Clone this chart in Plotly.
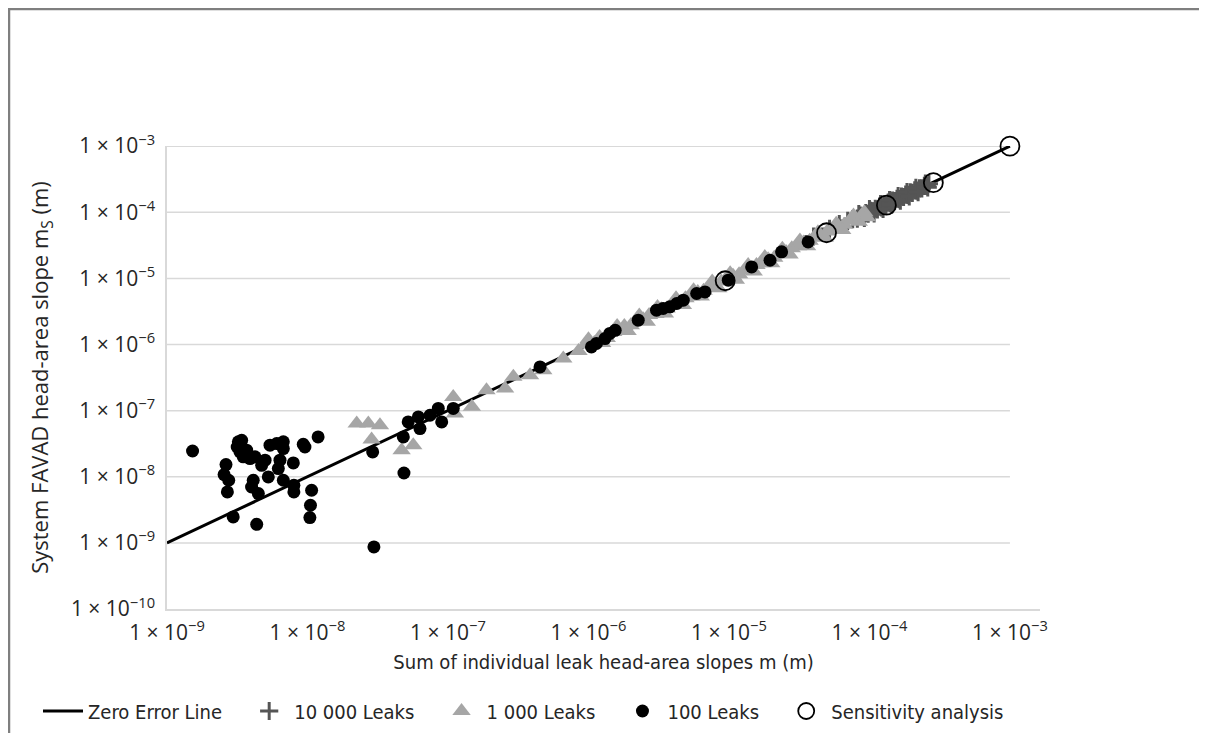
import plotly.graph_objects as go

# ---------------- data ----------------
zero_line_x = [1e-9, 1e-3]
zero_line_y = [1e-9, 1e-3]

leaks10000_x = [4.0e-5, 5.2e-5, 6.1e-5, 7.0e-5, 7.6e-5,
                8.2e-5, 8.6e-5, 9.0e-5, 9.4e-5, 9.8e-5, 1.02e-4, 1.06e-4, 1.10e-4,
                1.14e-4, 1.18e-4, 1.22e-4, 1.27e-4, 1.31e-4, 1.36e-4, 1.41e-4, 1.46e-4,
                1.51e-4, 1.57e-4, 1.63e-4, 1.69e-4, 1.75e-4, 1.81e-4, 1.88e-4, 1.95e-4,
                2.02e-4, 2.10e-4, 2.18e-4, 2.27e-4, 2.36e-4, 2.46e-4, 2.56e-4, 2.65e-4,
                8.4e-5, 9.2e-5, 1.0e-4, 1.08e-4, 1.2e-4, 1.25e-4, 1.39e-4, 1.44e-4,
                1.6e-4, 1.66e-4, 1.85e-4, 1.92e-4, 2.14e-4, 2.22e-4, 2.5e-4, 2.6e-4]
leaks10000_y = [4.3e-5, 5.6e-5, 6.6e-5, 7.4e-5, 7.9e-5,
                8.0e-5, 8.9e-5, 8.7e-5, 9.7e-5, 9.5e-5, 1.05e-4, 1.03e-4, 1.13e-4,
                1.10e-4, 1.22e-4, 1.18e-4, 1.30e-4, 1.27e-4, 1.40e-4, 1.37e-4, 1.50e-4,
                1.47e-4, 1.60e-4, 1.58e-4, 1.73e-4, 1.70e-4, 1.85e-4, 1.83e-4, 2.00e-4,
                1.97e-4, 2.14e-4, 2.12e-4, 2.30e-4, 2.30e-4, 2.50e-4, 2.50e-4, 2.70e-4,
                9.4e-5, 8.2e-5, 1.12e-4, 9.6e-5, 1.33e-4, 1.12e-4, 1.53e-4, 1.30e-4,
                1.75e-4, 1.50e-4, 2.02e-4, 1.74e-4, 2.34e-4, 2.02e-4, 2.72e-4, 2.38e-4]

leaks1000_x = [2.24e-8, 2.71e-8, 3.28e-8, 2.86e-8, 4.68e-8, 5.66e-8,
               1.09e-7, 1.12e-7, 1.48e-7, 1.88e-7, 2.55e-7, 2.92e-7, 3.84e-7, 4.77e-7, 6.62e-7,
               8.5e-7, 9.5e-7, 1.1e-6, 1.2e-6, 1.35e-6, 1.5e-6, 1.65e-6, 1.8e-6, 2.0e-6,
               2.2e-6, 2.45e-6, 2.7e-6, 3.0e-6, 3.3e-6, 3.6e-6, 4.0e-6, 4.4e-6, 4.9e-6,
               5.4e-6, 6.0e-6, 6.6e-6, 7.3e-6, 8.0e-6, 8.8e-6, 9.7e-6, 1.07e-5, 1.18e-5,
               1.3e-5, 1.43e-5, 1.57e-5, 1.73e-5, 1.9e-5, 2.1e-5, 2.3e-5, 2.55e-5, 2.8e-5,
               3.1e-5, 3.4e-5, 3.75e-5, 4.1e-5, 4.5e-5, 5.0e-5, 5.5e-5, 6.0e-5, 6.6e-5,
               7.3e-5, 8.0e-5, 8.8e-5,
               1.0e-6, 1.25e-6, 1.6e-6, 1.9e-6, 2.3e-6, 2.6e-6, 3.1e-6, 3.5e-6, 4.2e-6,
               4.7e-6, 5.6e-6, 6.3e-6, 7.6e-6, 8.4e-6, 1.02e-5, 1.12e-5, 1.37e-5, 1.5e-5,
               1.8e-5, 2.0e-5, 2.4e-5, 2.7e-5, 3.2e-5, 3.6e-5, 4.3e-5, 4.8e-5, 5.8e-5,
               6.4e-5, 7.7e-5, 8.4e-5, 9.2e-5, 9.6e-5]
leaks1000_y = [6.38e-8, 6.38e-8, 6.01e-8, 3.66e-8, 2.52e-8, 3.0e-8,
               1.61e-7, 9.04e-8, 1.14e-7, 2.04e-7, 2.16e-7, 3.24e-7, 3.44e-7, 4.08e-7, 6.14e-7,
               8.0e-7, 1.0e-6, 1.05e-6, 1.3e-6, 1.25e-6, 1.55e-6, 1.6e-6, 1.9e-6, 1.95e-6,
               2.3e-6, 2.4e-6, 2.8e-6, 2.9e-6, 3.4e-6, 3.5e-6, 4.1e-6, 4.3e-6, 5.0e-6,
               5.3e-6, 6.2e-6, 6.5e-6, 7.4e-6, 7.9e-6, 9.0e-6, 9.5e-6, 1.1e-5, 1.15e-5,
               1.33e-5, 1.4e-5, 1.6e-5, 1.7e-5, 1.95e-5, 2.05e-5, 2.35e-5, 2.5e-5, 2.85e-5,
               3.05e-5, 3.5e-5, 3.7e-5, 4.2e-5, 4.4e-5, 5.1e-5, 5.4e-5, 6.2e-5, 6.5e-5,
               7.5e-5, 7.8e-5, 9.0e-5,
               1.2e-6, 1.05e-6, 1.9e-6, 1.6e-6, 2.75e-6, 2.2e-6, 3.7e-6, 2.95e-6, 5.0e-6,
               3.95e-6, 6.6e-6, 5.3e-6, 9.0e-6, 7.1e-6, 1.2e-5, 9.5e-6, 1.6e-5, 1.27e-5,
               2.1e-5, 1.7e-5, 2.8e-5, 2.3e-5, 3.75e-5, 3.05e-5, 5.0e-5, 4.1e-5, 6.7e-5,
               5.4e-5, 8.9e-5, 7.2e-5, 1.0e-4, 8.4e-5]

leaks100_x = [1.52e-9, 2.63e-9, 2.55e-9, 2.75e-9, 2.69e-9, 2.96e-9, 3.22e-9, 3.40e-9,
              3.16e-9, 3.31e-9, 3.49e-9, 3.69e-9, 3.90e-9, 4.23e-9, 4.11e-9, 4.00e-9,
              4.47e-9, 4.35e-9, 4.72e-9, 4.99e-9, 5.26e-9, 5.41e-9, 6.04e-9, 6.73e-9,
              6.73e-9, 6.37e-9, 6.20e-9, 6.73e-9, 7.93e-9, 8.00e-9, 8.00e-9, 9.33e-9,
              9.59e-9, 1.07e-8, 1.05e-8, 1.04e-8, 1.19e-8, 2.91e-8, 2.97e-8, 4.86e-8,
              4.81e-8, 5.21e-8, 6.15e-8, 6.32e-8, 7.45e-8, 8.53e-8, 9.02e-8, 1.09e-7,
              4.52e-7, 1.05e-6, 1.14e-6, 1.31e-6, 1.42e-6, 1.55e-6, 2.26e-6, 3.05e-6,
              3.40e-6, 3.80e-6, 4.25e-6, 4.73e-6, 5.89e-6, 6.75e-6, 9.89e-6, 1.45e-5,
              1.96e-5, 2.37e-5, 3.66e-5]
leaks100_y = [2.45e-8, 1.53e-8, 1.08e-8, 8.85e-9, 5.89e-9, 2.47e-9, 3.37e-8, 3.56e-8,
              2.82e-8, 2.37e-8, 2.00e-8, 2.52e-8, 1.88e-8, 2.00e-8, 8.85e-9, 7.00e-9,
              5.57e-9, 1.91e-9, 1.49e-8, 1.78e-8, 9.93e-9, 3.00e-8, 3.18e-8, 3.37e-8,
              2.67e-8, 1.78e-8, 1.33e-8, 8.85e-9, 1.62e-8, 7.43e-9, 5.89e-9, 3.10e-8,
              2.82e-8, 6.25e-9, 3.71e-9, 2.41e-9, 4.00e-8, 2.37e-8, 8.67e-10, 1.14e-8,
              4.00e-8, 6.75e-8, 8.04e-8, 5.36e-8, 8.51e-8, 1.08e-7, 6.75e-8, 1.08e-7,
              4.58e-7, 9.2e-7, 1.04e-6, 1.23e-6, 1.47e-6, 1.64e-6, 2.33e-6, 3.30e-6,
              3.51e-6, 3.71e-6, 4.17e-6, 4.68e-6, 5.91e-6, 6.25e-6, 9.40e-6, 1.49e-5,
              1.88e-5, 2.52e-5, 3.56e-5]

sensitivity_x = [9.4e-6, 4.95e-5, 1.32e-4, 2.85e-4, 1.0e-3]
sensitivity_y = [9.2e-6, 4.9e-5, 1.28e-4, 2.8e-4, 1.0e-3]

series_names = ["Zero Error Line", "10 000 Leaks", "1 000 Leaks", "100 Leaks", "Sensitivity analysis"]

x_tick_vals = [1e-9, 1e-8, 1e-7, 1e-6, 1e-5, 1e-4, 1e-3]
x_tick_text = ["1 × 10<sup>−9</sup>", "1 × 10<sup>−8</sup>", "1 × 10<sup>−7</sup>",
               "1 × 10<sup>−6</sup>", "1 × 10<sup>−5</sup>", "1 × 10<sup>−4</sup>",
               "1 × 10<sup>−3</sup>"]
y_tick_vals = [1e-10, 1e-9, 1e-8, 1e-7, 1e-6, 1e-5, 1e-4, 1e-3]
y_tick_text = ["1 × 10<sup>−10</sup>"] + x_tick_text

grid_levels = [1e-9, 1e-8, 1e-7, 1e-6, 1e-5, 1e-4, 1e-3]
grid_x = [1e-9, 1e-3]

# ---------------- layout geometry ----------------
# the page body has an 8 px margin, so the figure is 8 px smaller than the window
BODY = 8
W, H = 1207 - BODY, 733 - BODY
ML, MR, MT, MB = 159, 167, 138, 124
x_range_log = [-9, -2.786]
y_range_log = [-10, -2.998]   # a hair above 1e-3 so the top point is not dropped

fig = go.Figure()

GRID = "#d9d9d9"
for g in grid_levels:
    fig.add_trace(go.Scatter(x=grid_x, y=[g, g], mode="lines",
                             line=dict(color=GRID, width=1.5),
                             showlegend=False, hoverinfo="skip"))

PAD = "\u00a0\u00a0\u00a0"
fig.add_trace(go.Scatter(x=zero_line_x, y=zero_line_y, mode="lines", name=series_names[0] + PAD,
                         line=dict(color="black", width=3)))
fig.add_trace(go.Scatter(x=leaks10000_x, y=leaks10000_y, mode="markers", name=series_names[1] + PAD,
                         marker=dict(symbol="cross-thin", size=13, color="#555555",
                                     line=dict(color="#555555", width=3))))
fig.add_trace(go.Scatter(x=leaks1000_x, y=leaks1000_y, mode="markers", name=series_names[2] + PAD,
                         marker=dict(symbol="triangle-up", size=16, color="#a6a6a6",
                                     line=dict(width=0))))
fig.add_trace(go.Scatter(x=leaks100_x, y=leaks100_y, mode="markers", name=series_names[3] + PAD,
                         marker=dict(symbol="circle", size=13, color="black", line=dict(width=0))))
fig.add_trace(go.Scatter(x=sensitivity_x, y=sensitivity_y, mode="markers", name=series_names[4],
                         cliponaxis=False,
                         marker=dict(symbol="circle-open", size=19, color="black",
                                     line=dict(color="black", width=1.8))))

TICKFONT = dict(family="Open Sans, Liberation Sans, sans-serif", size=21, color="#262626")
NARROW = "Liberation Sans Narrow, DejaVu Sans Condensed, sans-serif"

fig.update_xaxes(type="log", range=x_range_log, tickvals=x_tick_vals, ticktext=x_tick_text,
                 showgrid=False, zeroline=False, showline=True, linecolor=GRID, linewidth=1.5,
                 ticks="", tickfont=TICKFONT, ticklabelstandoff=4,
                 title=dict(text="Sum of individual leak head-area slopes m (m)",
                            font=dict(family=NARROW, size=20, color="#262626"), standoff=10))
fig.update_yaxes(type="log", range=y_range_log, tickvals=y_tick_vals, ticktext=y_tick_text,
                 showgrid=False, zeroline=False, showline=True, linecolor=GRID, linewidth=1.5,
                 ticks="", tickfont=TICKFONT, ticklabelstandoff=6,
                 title=dict(text="System FAVAD head-area slope m<sub>S</sub> (m)",
                            font=dict(family="Open Sans, Liberation Sans, sans-serif", size=22,
                                      color="#262626"), standoff=16))

pw, ph = W - ML - MR, H - MT - MB
def px_to_paper_x(p):
    return (p - ML) / pw
def px_to_paper_y(q):
    return (H - MB - q) / ph

frame_color = "#7f7f7f"
fig.add_shape(type="line", xref="paper", yref="paper",
              x0=px_to_paper_x(0), x1=px_to_paper_x(W + 5), y0=px_to_paper_y(1), y1=px_to_paper_y(1),
              line=dict(color=frame_color, width=2.5))
fig.add_shape(type="line", xref="paper", yref="paper",
              x0=px_to_paper_x(1), x1=px_to_paper_x(1), y0=px_to_paper_y(0), y1=px_to_paper_y(H + 5),
              line=dict(color=frame_color, width=2.5))

fig.update_layout(
    width=W, height=H,
    margin=dict(l=ML, r=MR, t=MT, b=MB, autoexpand=False),
    paper_bgcolor="white", plot_bgcolor="white",
    showlegend=True,
    legend=dict(orientation="h", x=px_to_paper_x(30), xanchor="left",
                y=px_to_paper_y(703), yanchor="middle",
                font=dict(family=NARROW, size=20, color="#262626"),
                bgcolor="rgba(0,0,0,0)", itemwidth=40, tracegroupgap=0),
)

fig.write_html("out.html")
